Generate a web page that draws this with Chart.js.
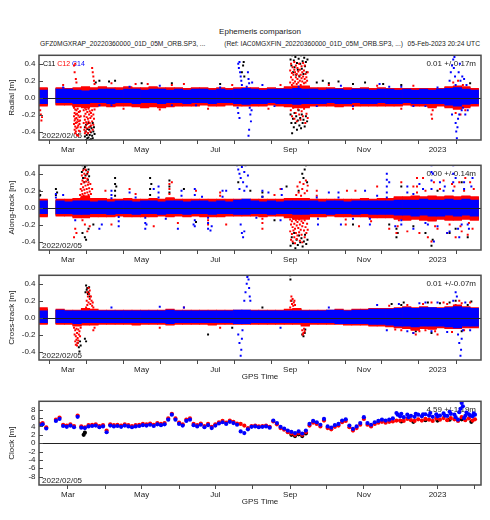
<!DOCTYPE html>
<html>
<head>
<meta charset="utf-8">
<script src="https://cdn.jsdelivr.net/npm/chart.js@4.4.1/dist/chart.umd.min.js"></script>
<style>
  body { margin: 0; background: #fff; width: 490px; height: 520px; position: relative; overflow: hidden;
         font-family: "Liberation Sans", Arial, sans-serif; color: #222; }
  canvas { position: absolute; left: 0; }
  .txt { position: absolute; white-space: nowrap; }
  #title { left: 39px; width: 442px; top: 27px; text-align: center; font-size: 8px; line-height: 10px; }
  .sub { top: 38.5px; font-size: 6.7px; line-height: 9px; }
</style>
</head>
<body>
<div class="txt" id="title">Ephemeris comparison</div>
<div class="txt sub" style="left:40px">GFZ0MGXRAP_20220360000_01D_05M_ORB.SP3, ...</div>
<div class="txt sub" style="right:87px">(Ref: IAC0MGXFIN_20220360000_01D_05M_ORB.SP3, ...)</div>
<div class="txt sub" style="right:10px">05-Feb-2023 20:24 UTC</div>

<canvas id="radial" width="490" height="109" style="top:47px"></canvas>
<canvas id="along" width="490" height="109" style="top:157px"></canvas>
<canvas id="cross" width="490" height="121" style="top:267px"></canvas>
<canvas id="clock" width="490" height="120" style="top:393px"></canvas>

<script>
// x values are days since 2022/02/05
const SATS = ['C11', 'C12', 'C14'];
const SAT_COLORS = ['#000000', '#ff0000', '#0000ff'];
const TICK_DAYS = [24, 55, 85, 116, 146, 177, 208, 238, 269, 299, 330, 361];
const TICK_LABELS = ['Mar', '', 'May', '', 'Jul', '', 'Sep', '', 'Nov', '', '2023', ''];
const ORBIT_TICKS = [-0.4, -0.2, 0, 0.2, 0.4];
const CLOCK_TICKS = [-8, -6, -4, -2, 0, 2, 4, 6, 8];

// weekly spread of the dense core of each point cloud (bucket centres)
const WEEK_DAYS = [3.5,10.5,17.5,24.5,31.5,38.5,45.5,52.5,59.5,66.5,73.5,80.5,87.5,
  94.5,101.5,108.5,115.5,122.5,129.5,136.5,143.5,150.5,157.5,164.5,171.5,178.5,
  185.5,192.5,199.5,206.5,213.5,220.5,227.5,234.5,241.5,248.5,255.5,262.5,269.5,
  276.5,283.5,290.5,297.5,304.5,311.5,318.5,325.5,332.5,339.5,346.5,353.5,360.5];

const RADIAL_C14_HI = [0.09,null,0.10,0.10,0.09,0.08,0.09,0.10,0.10,0.09,0.10,0.10,0.09,
  0.10,0.10,0.09,0.10,0.09,0.10,0.10,0.09,0.10,0.09,0.10,0.11,0.10,
  0.09,0.10,0.10,0.10,0.11,0.10,0.10,0.09,0.10,0.10,0.09,0.10,0.10,
  0.09,0.10,0.10,0.09,0.10,0.09,0.10,0.09,0.10,0.11,0.12,0.10,0.09];
const RADIAL_C14_LO = [-0.07,null,-0.06,-0.06,-0.07,-0.07,-0.06,-0.06,-0.07,-0.06,-0.06,-0.07,-0.06,
  -0.06,-0.07,-0.06,-0.06,-0.07,-0.06,-0.06,-0.07,-0.06,-0.06,-0.07,-0.08,-0.07,
  -0.07,-0.06,-0.07,-0.07,-0.08,-0.07,-0.07,-0.07,-0.06,-0.07,-0.07,-0.06,-0.07,
  -0.07,-0.06,-0.07,-0.07,-0.06,-0.07,-0.07,-0.07,-0.07,-0.09,-0.10,-0.08,-0.07];
const RADIAL_C12_HI = [0.12,null,0.12,0.11,0.12,0.13,0.12,0.13,0.12,0.12,0.13,0.12,0.12,
  0.13,0.12,0.12,0.12,0.11,0.12,0.12,0.11,0.12,0.11,0.12,0.12,0.12,
  0.11,0.12,0.11,0.13,0.14,0.14,0.12,0.12,0.12,0.11,0.12,0.11,0.12,
  0.11,0.12,0.11,0.11,0.11,0.11,0.11,0.11,0.11,0.13,0.14,0.13,0.11];
const RADIAL_C12_LO = [-0.10,null,-0.09,-0.09,-0.11,-0.12,-0.11,-0.10,-0.11,-0.10,-0.10,-0.11,-0.12,
  -0.11,-0.12,-0.11,-0.10,-0.10,-0.10,-0.09,-0.10,-0.10,-0.09,-0.10,-0.10,-0.10,
  -0.10,-0.09,-0.10,-0.11,-0.12,-0.12,-0.10,-0.10,-0.10,-0.11,-0.10,-0.10,-0.10,
  -0.10,-0.10,-0.10,-0.10,-0.09,-0.10,-0.10,-0.12,-0.10,-0.12,-0.14,-0.12,-0.10];
const RADIAL_C11_HI = [0.11,null,0.11,0.10,0.11,0.12,0.11,0.12,0.11,0.11,0.12,0.11,0.11,
  0.12,0.11,0.11,0.11,0.10,0.11,0.11,0.10,0.11,0.10,0.11,0.11,0.11,
  0.10,0.11,0.10,0.12,0.13,0.13,0.11,0.11,0.11,0.10,0.11,0.10,0.11,
  0.10,0.11,0.10,0.10,0.10,0.10,0.10,0.10,0.10,0.12,0.13,0.12,0.10];
const RADIAL_C11_LO = [-0.09,null,-0.08,-0.08,-0.10,-0.11,-0.10,-0.09,-0.10,-0.09,-0.09,-0.10,-0.11,
  -0.10,-0.11,-0.10,-0.09,-0.09,-0.09,-0.08,-0.09,-0.09,-0.08,-0.09,-0.09,-0.09,
  -0.09,-0.08,-0.09,-0.10,-0.11,-0.11,-0.09,-0.09,-0.09,-0.10,-0.09,-0.09,-0.09,
  -0.09,-0.09,-0.09,-0.09,-0.08,-0.09,-0.09,-0.11,-0.09,-0.11,-0.13,-0.11,-0.09];

const ALONG_C14_HI = [0.08,null,0.08,0.07,0.08,0.08,0.07,0.08,0.07,0.08,0.08,0.07,0.08,
  0.08,0.07,0.08,0.08,0.07,0.08,0.08,0.07,0.08,0.07,0.09,0.10,0.08,
  0.07,0.08,0.07,0.08,0.08,0.08,0.08,0.07,0.08,0.08,0.07,0.08,0.08,
  0.08,0.08,0.08,0.09,0.09,0.09,0.10,0.09,0.09,0.10,0.09,0.10,0.09];
const ALONG_C14_LO = [-0.07,null,-0.07,-0.07,-0.08,-0.08,-0.07,-0.07,-0.08,-0.07,-0.07,-0.08,-0.07,
  -0.07,-0.08,-0.07,-0.07,-0.08,-0.07,-0.07,-0.08,-0.07,-0.07,-0.08,-0.08,-0.07,
  -0.07,-0.08,-0.07,-0.07,-0.08,-0.08,-0.07,-0.07,-0.08,-0.07,-0.07,-0.08,-0.07,
  -0.08,-0.08,-0.08,-0.09,-0.09,-0.10,-0.09,-0.10,-0.10,-0.09,-0.10,-0.09,-0.10];
const ALONG_C12_HI = [0.10,null,0.10,0.10,0.11,0.14,0.11,0.11,0.10,0.10,0.11,0.10,0.10,
  0.11,0.10,0.12,0.10,0.10,0.10,0.10,0.10,0.10,0.10,0.10,0.10,0.10,
  0.10,0.10,0.10,0.11,0.11,0.11,0.10,0.10,0.10,0.10,0.10,0.10,0.11,
  0.10,0.11,0.11,0.13,0.13,0.14,0.13,0.14,0.13,0.14,0.13,0.14,0.13];
const ALONG_C12_LO = [-0.11,null,-0.10,-0.10,-0.12,-0.12,-0.11,-0.11,-0.11,-0.10,-0.11,-0.11,-0.11,
  -0.11,-0.10,-0.11,-0.10,-0.11,-0.10,-0.11,-0.11,-0.11,-0.10,-0.10,-0.10,-0.10,
  -0.11,-0.10,-0.10,-0.12,-0.14,-0.14,-0.11,-0.11,-0.10,-0.11,-0.11,-0.11,-0.11,
  -0.12,-0.12,-0.12,-0.14,-0.15,-0.14,-0.15,-0.16,-0.14,-0.15,-0.15,-0.14,-0.15];
const ALONG_C11_HI = [0.09,null,0.09,0.09,0.10,0.13,0.10,0.10,0.09,0.09,0.10,0.09,0.09,
  0.10,0.09,0.11,0.09,0.09,0.09,0.09,0.09,0.09,0.09,0.09,0.09,0.09,
  0.09,0.09,0.09,0.10,0.10,0.10,0.09,0.09,0.09,0.09,0.09,0.09,0.10,
  0.09,0.10,0.10,0.12,0.12,0.13,0.12,0.13,0.12,0.13,0.12,0.13,0.12];
const ALONG_C11_LO = [-0.10,null,-0.09,-0.09,-0.11,-0.11,-0.10,-0.10,-0.10,-0.09,-0.10,-0.10,-0.10,
  -0.10,-0.09,-0.10,-0.09,-0.10,-0.09,-0.10,-0.10,-0.10,-0.09,-0.09,-0.09,-0.09,
  -0.10,-0.09,-0.09,-0.11,-0.13,-0.13,-0.10,-0.10,-0.09,-0.10,-0.10,-0.10,-0.10,
  -0.11,-0.11,-0.11,-0.13,-0.14,-0.13,-0.14,-0.15,-0.13,-0.14,-0.14,-0.13,-0.14];

const CROSS_C14_HI = [0.08,null,0.09,0.08,0.08,0.08,0.08,0.08,0.08,0.08,0.08,0.08,0.08,
  0.08,0.08,0.09,0.08,0.08,0.08,0.08,0.08,0.08,0.08,0.09,0.09,0.08,
  0.08,0.08,0.08,0.08,0.08,0.08,0.08,0.08,0.09,0.09,0.08,0.09,0.09,
  0.10,0.10,0.10,0.11,0.12,0.11,0.12,0.12,0.11,0.12,0.13,0.12,0.11];
const CROSS_C14_LO = [-0.06,null,-0.06,-0.06,-0.07,-0.06,-0.06,-0.06,-0.06,-0.06,-0.06,-0.06,-0.06,
  -0.06,-0.06,-0.07,-0.06,-0.06,-0.06,-0.06,-0.06,-0.06,-0.06,-0.07,-0.07,-0.06,
  -0.06,-0.06,-0.06,-0.06,-0.06,-0.06,-0.06,-0.06,-0.06,-0.07,-0.07,-0.07,-0.07,
  -0.08,-0.08,-0.09,-0.10,-0.10,-0.11,-0.10,-0.10,-0.10,-0.11,-0.12,-0.10,-0.10];
const CROSS_C12_HI = [0.12,null,0.10,0.09,0.09,0.11,0.10,0.09,0.09,0.09,0.09,0.09,0.09,
  0.09,0.09,0.10,0.09,0.09,0.09,0.09,0.09,0.09,0.09,0.09,0.09,0.09,
  0.09,0.09,0.09,0.10,0.11,0.09,0.09,0.09,0.09,0.10,0.09,0.10,0.10,
  0.11,0.11,0.11,0.12,0.13,0.12,0.13,0.12,0.12,0.13,0.15,0.13,0.12];
const CROSS_C12_LO = [-0.08,null,-0.08,-0.08,-0.10,-0.09,-0.09,-0.08,-0.08,-0.08,-0.08,-0.09,-0.08,
  -0.08,-0.08,-0.09,-0.08,-0.08,-0.08,-0.08,-0.09,-0.08,-0.08,-0.08,-0.08,-0.08,
  -0.08,-0.08,-0.08,-0.08,-0.08,-0.10,-0.08,-0.08,-0.08,-0.08,-0.09,-0.09,-0.09,
  -0.10,-0.10,-0.11,-0.12,-0.13,-0.15,-0.13,-0.14,-0.12,-0.13,-0.13,-0.12,-0.12];
const CROSS_C11_HI = [0.10,null,0.09,0.08,0.08,0.10,0.09,0.08,0.08,0.08,0.08,0.08,0.08,
  0.08,0.08,0.09,0.08,0.08,0.08,0.08,0.08,0.08,0.08,0.08,0.08,0.08,
  0.08,0.08,0.08,0.09,0.10,0.08,0.08,0.08,0.08,0.09,0.08,0.09,0.09,
  0.10,0.10,0.10,0.11,0.12,0.11,0.12,0.11,0.11,0.12,0.13,0.12,0.11];
const CROSS_C11_LO = [-0.07,null,-0.07,-0.07,-0.09,-0.08,-0.08,-0.07,-0.07,-0.07,-0.07,-0.08,-0.07,
  -0.07,-0.07,-0.08,-0.07,-0.07,-0.07,-0.07,-0.08,-0.07,-0.07,-0.07,-0.07,-0.07,
  -0.07,-0.07,-0.07,-0.07,-0.07,-0.09,-0.07,-0.07,-0.07,-0.07,-0.08,-0.08,-0.08,
  -0.09,-0.09,-0.10,-0.11,-0.12,-0.14,-0.12,-0.13,-0.11,-0.12,-0.12,-0.11,-0.11];

// points outside the dense core: [day, metres]
const RADIAL_C14_PTS = [[165,0.40],[165.5,0.35],[166,0.42],[166.5,0.30],[167,0.25],[167.5,0.20],[168,0.15],
  [164.5,-0.12],[165,-0.18],[166,-0.24],[172,0.13],[173,0.30],[173.5,0.22],[174,0.17],[174.5,-0.12],
  [175,-0.20],[175.5,-0.28],[173.5,-0.45],[174,-0.38],[176,-0.15],[176.5,0.18],[340,0.20],[341,0.30],
  [342,-0.20],[342,0.38],[343,0.45],[343.5,0.35],[344,0.48],[344.5,0.25],[345,0.15],[345,-0.30],
  [345.5,-0.40],[346,-0.48],[346.5,-0.35],[347,-0.25],[347.5,0.30],[348,-0.20],[348.5,0.40],[349,0.20],
  [350,-0.15],[350.5,0.25],[351,-0.12],[352,0.22],[353,-0.20],[354,0.15],[355,-0.15],[100,0.14],
  [185,0.15],[250,0.14],[282,0.16],[300,0.13],[60,-0.09],[130,-0.09],[230,-0.10],[320,-0.10],
  [20,0.12],[50,-0.09],[75,0.13],[110,-0.09],[150,0.12],[195,-0.10],[215,0.13],[260,-0.10],
  [290,0.13],[310,-0.10],[330,0.12]];
const RADIAL_C12_PTS = [[1,-0.15],[1.5,-0.20],[2,-0.27],[2.5,-0.23],
  [29,-0.12],[29,-0.22],[29,-0.31],[29.5,-0.18],[29.5,-0.27],[29.5,-0.38],[30,-0.14],[30,-0.25],[30,-0.34],
  [30,-0.42],[30.5,-0.20],[30.5,-0.30],[30.5,-0.40],[31,-0.15],[31,-0.24],[31,-0.36],[31.5,-0.19],
  [31.5,-0.29],[31.5,-0.44],[32,-0.13],[32,-0.26],[32,-0.35],[32.5,-0.21],[32.5,-0.33],[32.5,-0.45],
  [33,-0.17],[33,-0.28],[33,-0.39],[33.5,-0.23],[33.5,-0.31],[34,-0.16],[34,-0.27],[34,-0.40],
  [34.5,-0.22],[34.5,-0.35],[37,-0.15],[37,-0.30],[37.5,-0.22],[37.5,-0.38],[38,-0.12],[38,-0.26],
  [38,-0.42],[38.5,-0.19],[38.5,-0.34],[39,-0.14],[39,-0.29],[39,-0.40],[39.5,-0.23],[39.5,-0.36],
  [40,-0.17],[40,-0.31],[40.5,-0.25],[40.5,-0.42],[41,-0.13],[41,-0.28],[41.5,-0.20],[41.5,-0.35],
  [42,-0.16],[42,-0.30],[42.5,-0.24],[42.5,-0.40],[43,-0.18],[43,-0.33],[43.5,-0.22],[44,-0.15],
  [44,-0.28],[44.5,-0.38],[45,-0.20],[45,-0.32],[45.5,-0.25],[46,-0.14],
  [29,0.38],[29.5,0.30],[30,0.40],[30.5,0.22],[31,0.18],[44,0.35],[44.5,0.30],[45,0.25],[45.5,0.20],[46,0.16],
  [20,0.15],[60,0.17],[70,-0.13],[80,0.16],[90,0.16],[100,-0.14],[110,0.15],[120,0.16],[140,-0.13],
  [160,0.15],[190,-0.13],[200,0.15],
  [208,0.18],[208,0.32],[208.7,0.24],[208.7,0.40],[209.4,0.15],[209.4,0.29],[210,0.21],[210,0.36],
  [210.7,0.17],[210.7,0.27],[211.4,0.33],[211.4,0.42],[212,0.19],[212,0.30],[212.7,0.24],[212.7,0.38],
  [213.4,0.16],[213.4,0.28],[214,0.22],[214,0.35],[214.7,0.18],[214.7,0.31],[215.4,0.26],[215.4,0.40],
  [216,0.20],[216,0.33],[216.7,0.15],[216.7,0.27],[217.4,0.23],[217.4,0.37],[218,0.19],[218,0.30],
  [218.7,0.25],[218.7,0.41],[219.4,0.17],[219.4,0.32],[220,0.22],[220,0.38],[220.7,0.18],[220.7,0.28],
  [221.4,0.24],[222,0.20],[222.5,0.30],
  [208.5,-0.15],[209.5,-0.22],[210.5,-0.12],[211.5,-0.25],[212.5,-0.18],[213.5,-0.28],[214.5,-0.14],
  [215.5,-0.20],[216.5,-0.26],[217.5,-0.16],[218.5,-0.22],[219.5,-0.13],[220.5,-0.30],[221.5,-0.19],
  [222.5,-0.24],[240,0.15],[260,-0.13],[280,0.14],[300,-0.13],[310,0.14],[325,-0.20],[325.5,-0.25],
  [326,-0.15],[343,0.18],[345,-0.18],[347,0.20],[349,-0.20],[351,0.15],[353,-0.15]];
const RADIAL_C11_PTS = [[38,-0.35],[38,-0.46],[38.5,-0.40],[39,-0.32],[39,-0.50],[39.5,-0.44],[40,-0.37],
  [40,-0.48],[40.5,-0.42],[41,-0.30],[41,-0.47],[41.5,-0.38],[42,-0.44],[42,-0.50],[42.5,-0.34],
  [43,-0.41],[43,-0.49],[43.5,-0.36],[44,-0.45],[44.5,-0.30],[44.5,-0.48],[45,-0.40],[45.5,-0.35],
  [46,-0.43],[47,0.18],[50,0.20],[58,0.19],[63,0.20],[85,0.17],[110,0.17],[150,0.16],[168,0.30],
  [169,0.38],[169.5,0.42],[170,0.25],[230,0.18],[235,0.20],[240,0.17],[248,0.19],[260,0.16],[270,0.18],
  [285,0.16],[300,0.15],[357,0.17],
  [208.3,0.45],[209,0.38],[209.6,0.50],[210.3,0.30],[211,0.44],[211.6,0.36],[212.3,0.48],[213,0.27],
  [213.6,0.41],[214.3,0.33],[215,0.46],[215.6,0.25],[216.3,0.40],[217,0.50],[217.6,0.34],[218.3,0.43],
  [219,0.28],[219.6,0.47],[220.3,0.37],[221,0.42],[221.6,0.30],[222.3,0.45],
  [208.3,-0.20],[209,-0.30],[209.6,-0.42],[210.3,-0.25],[211,-0.35],[211.6,-0.18],[212.3,-0.30],
  [213,-0.22],[213.6,-0.38],[214.3,-0.27],[215,-0.15],[215.6,-0.33],[216.3,-0.24],[217,-0.36],
  [217.6,-0.20],[218.3,-0.30],[219,-0.26],[220,-0.34],[221,-0.22],[222,-0.28]];

const ALONG_C14_PTS = [[164,0.50],[165,0.45],[166,0.40],[167,0.35],[168,0.48],[169,0.30],[170,0.42],
  [171,0.50],[172,0.25],[173,0.38],[170,0.20],[166,0.22],[168,-0.30],[169,-0.35],[170,-0.28],[167,-0.20],
  [20,0.15],[50,-0.25],[52,-0.20],[60,0.20],[66,-0.22],[75,0.18],[88,-0.25],[89,-0.20],[95,0.22],
  [115,-0.25],[118,0.20],[128,-0.20],[142,-0.27],[143,-0.22],[155,0.20],[190,0.18],[200,-0.15],
  [240,0.18],[250,-0.20],[270,0.20],[288,0.40],[290,0.30],[295,-0.22],[305,0.25],[315,0.28],[325,0.50],
  [326,0.40],[327,-0.40],[332,0.30],[338,-0.30],[343,0.50],[345,0.35],[348,-0.35],[352,0.30],
  [356,-0.25],[359,0.35],[30,-0.15],[80,0.12],[105,-0.13],[135,0.13],[180,-0.12],[230,0.12],
  [260,-0.13],[280,0.14],[300,-0.15],[310,0.16],[320,-0.18],[335,0.20],[350,-0.20],
  [14,0.16],[14,0.12],[60,0.15],[60,0.11],[66,-0.16],[66,-0.11],[88,-0.18],[88,-0.12],[99,0.25],
  [99,0.18],[99,0.12],[118,0.14],[129,0.22],[129,0.15],[129,-0.22],[129,-0.15],[140,-0.25],[140,-0.18],
  [140,-0.12],[152,0.20],[152,0.13],[185,0.20],[185,0.13],[201,0.22],[201,0.15],[231,-0.20],[231,-0.13],
  [248,0.18],[248,0.12],[274,-0.20],[274,-0.13],[288,0.33],[288,0.25],[288,0.18],[288,0.12],[300,-0.20],
  [305,0.18],[310,-0.25],[318,0.22],[322,-0.20],[325,0.42],[325,0.32],[325,0.22],[330,-0.22],
  [336,0.25],[340,-0.28],[343,0.40],[343,0.30],[343,0.20],[347,-0.25],[352,0.22],[355,-0.20],[358,0.25]];
const ALONG_C12_PTS = [[34,0.15],[34.5,0.22],[35,0.12],[35,0.28],[35.5,0.20],[35.5,0.38],[36,0.16],
  [36,0.32],[36.5,0.24],[36.5,0.44],[37,0.14],[37,0.30],[37.5,0.21],[37.5,0.40],[38,0.17],[38,0.35],
  [38.5,0.26],[38.5,0.45],[39,0.13],[39,0.31],[39.5,0.22],[39.5,0.39],[40,0.18],[40,0.34],[40.5,0.27],
  [40.5,0.42],[41,0.15],[41,0.30],[41.5,0.23],[42,0.19],[42.5,0.28],[43,0.16],[44,0.22],
  [29,-0.35],[30,-0.25],[31,-0.30],[38,-0.20],[40,-0.28],[42,-0.22],[36,-0.15],
  [55,0.20],[60,-0.20],[75,0.22],[95,-0.22],[108,0.28],[110,0.30],[115,-0.18],[130,0.20],[140,-0.20],
  [150,0.18],[155,-0.20],[185,-0.25],[195,0.15],[200,0.22],
  [208,-0.14],[208,-0.28],[208.7,-0.20],[208.7,-0.38],[209.4,-0.16],[209.4,-0.31],[210,-0.23],[210,-0.40],
  [210.7,-0.13],[210.7,-0.27],[211.4,-0.19],[211.4,-0.35],[212,-0.25],[212,-0.42],[212.7,-0.15],
  [212.7,-0.30],[213.4,-0.21],[213.4,-0.37],[214,-0.17],[214,-0.33],[214.7,-0.24],[215.4,-0.14],
  [215.4,-0.29],[216,-0.20],[216,-0.39],[216.7,-0.26],[217.4,-0.16],[217.4,-0.32],[218,-0.22],[218,-0.41],
  [218.7,-0.18],[219.4,-0.27],[220,-0.15],[220,-0.35],[220.7,-0.23],[221.4,-0.30],[222,-0.19],[222.5,-0.26],
  [213,0.15],[214,0.25],[215,0.18],[216,0.30],[217,0.14],[218,0.22],[219,0.28],[220,0.17],[221,0.32],
  [222,0.20],[222.5,0.26],
  [255,0.20],[265,-0.22],[280,0.25],[290,-0.25],[300,0.30],[305,-0.28],[310,0.25],[315,-0.30],[318,0.35],
  [322,-0.35],[325,-0.40],[327,0.30],[330,-0.25],[335,0.32],[338,-0.30],[342,0.28],[345,-0.35],
  [348,0.30],[350,-0.28],[353,0.35],[355,-0.32],[357,0.30],[359,-0.25],
  [80,0.16],[108,0.22],[108,0.16],[140,-0.15],[150,0.14],[185,-0.18],[185,-0.13],[230,0.20],[230,0.14],
  [254,-0.20],[254,-0.14],[262,0.20],[275,-0.16],[296,-0.30],[297,-0.22],[298,-0.15],[313,0.35],
  [313,0.25],[313,0.18],[320,0.20],[328,-0.22],[332,0.22],[340,-0.20],[344,0.25],[349,-0.22],
  [352,0.20],[356,-0.18],[360,0.22]];
const ALONG_C11_PTS = [[35.5,0.42],[36,0.50],[36.5,0.35],[37,0.46],[37.5,0.30],[38,0.48],[38.5,0.38],
  [39,0.44],[39.5,0.50],[40,0.40],[40.5,0.33],[41,0.45],[41.5,0.37],[36,-0.30],[38,-0.35],[39,-0.38],
  [41,-0.25],[0.5,0.20],[1,0.15],[14,0.22],[15,0.18],[63,0.35],[64,0.25],[92,0.35],[93,0.28],
  [108,0.32],[45,-0.20],[120,0.22],[130,-0.17],[165,0.30],[175,0.20],[195,-0.15],[205,0.25],
  [208.3,-0.45],[209.3,-0.35],[210.3,-0.42],[211.3,-0.30],[212.3,-0.48],[213.3,-0.38],[214.3,-0.44],
  [215.3,-0.33],[216.3,-0.41],[217.3,-0.36],[218.3,-0.46],[219.3,-0.40],[220.3,-0.32],[221.3,-0.43],
  [222.3,-0.38],[215,0.20],[218,0.40],[219,0.35],[220,0.45],[221,0.50],[222,0.30],
  [260,-0.20],[296,-0.35],[297,-0.30],[300,0.25],[320,-0.30],[325,-0.45],[326,-0.38],[340,-0.30],
  [350,0.30],[355,-0.35],
  [63,0.28],[63,0.20],[63,0.14],[92,0.22],[92,0.15],[108,0.25],[108,0.18],[185,0.18],[185,0.13],
  [0.5,0.14],[14,0.15],[290,-0.20],[296,-0.25],[310,-0.22],[330,0.20],[345,-0.25]];

const CROSS_C14_PTS = [[165,-0.20],[166,-0.30],[167,-0.45],[167.5,-0.38],[168,-0.25],[168.5,-0.15],
  [170,0.20],[171,0.30],[172,0.40],[173,0.50],[173.5,0.45],[174,0.35],[174.5,0.25],[175,0.20],
  [172.5,0.48],[345,0.30],[346,0.25],[347,-0.20],[348,-0.30],[349,-0.45],[349.5,-0.38],[350,-0.25],
  [351,-0.15],[310,-0.18],[320,0.18],[280,0.15],[60,0.12],[100,0.13],[200,-0.12],
  [288,-0.15],[298,0.16],[305,-0.16],[315,0.17],[325,-0.16],[330,0.18],[338,-0.17],[343,0.20],
  [353,0.18],[357,-0.15],[120,0.12],[240,0.12]];
const CROSS_C12_PTS = [[29,-0.12],[29.5,-0.20],[30,-0.15],[30,-0.28],[30.5,-0.22],[30.5,-0.32],[31,-0.13],
  [31,-0.26],[31.5,-0.18],[31.5,-0.33],[32,-0.24],[32,-0.30],[32.5,-0.14],[32.5,-0.27],[33,-0.20],
  [33.5,-0.16],[34,-0.22],[34.5,-0.12],[39,0.12],[39.5,0.20],[40,0.15],[40,0.30],[40.5,0.25],[41,0.35],
  [41,0.18],[41.5,0.28],[42,0.22],[42,0.32],[42.5,0.16],[43,0.25],[43.5,0.20],[44,0.14],[44.5,0.18],
  [45,0.12],[45,-0.15],[46,-0.12],[100,-0.12],[120,0.12],[150,-0.12],
  [208,0.12],[208.5,0.20],[209,0.25],[209.5,0.16],[210,0.22],[210.5,0.14],[211,0.18],[211.5,0.20],
  [212,0.15],[218,-0.15],[218.5,-0.20],[219,-0.18],[219.5,-0.13],[220,-0.16],
  [300,-0.15],[310,-0.18],[312,-0.20],[320,-0.15],[330,-0.20],[335,0.18],[345,0.15],[350,0.17],
  [290,0.14],[295,-0.14],[305,0.15],[315,-0.16],[318,0.16],[325,0.18],[328,-0.16],[338,0.16],
  [342,-0.17],[348,0.20],[352,-0.15],[357,0.18]];
const CROSS_C11_PTS = [[32,-0.30],[33,-0.35],[33.5,-0.40],[34,-0.28],[34.5,-0.33],[38,-0.25],[39,-0.28],
  [38.5,0.30],[39,0.38],[39.5,0.33],[40,0.35],[40.5,0.28],[41,0.30],[41.5,0.36],[42,0.25],[140,-0.20],
  [208,0.50],[208.2,0.45],[209,0.20],[218,-0.20],[219,-0.22],[220,-0.18],[220.5,-0.14],
  [300,0.15],[325,-0.18],[340,0.18],[355,0.15],
  [292,0.16],[302,0.18],[312,-0.16],[322,0.18],[332,0.17],[345,0.20],[350,-0.16],[358,0.19],
  [185,0.12],[160,-0.12]];

const CLOCK_DAYS = [0,3,6,14,17,20,23,26,29,32,35,38,41,44,47,50,53,56,59,62,65,68,71,74,77,80,83,86,89,92,
  95,98,101,104,107,110,113,116,119,122,125,128,131,134,137,140,143,146,149,152,155,158,161,164,167,
  170,173,176,179,182,185,188,191,194,197,200,203,206,209,212,215,218,221,224,227,230,233,236,239,242,
  245,248,251,254,257,260,263,266,269,272,275,278,281,284,287,290,293,296,299,302,305,308,311,314,317,
  320,323,326,329,332,335,338,341,344,347,350,353,356,359,361];
const CLOCK_C14 = [4.3,4.5,3.5,
  5.3,5.8,4.1,3.9,4.2,3.8,6.3,3.7,3.6,4.0,4.1,4.2,3.8,4.0,2.6,4.2,
  4.0,4.1,3.9,4.2,4.0,3.8,4.0,4.1,4.3,4.2,4.4,4.1,4.5,4.3,4.5,5.6,
  6.8,5.6,4.6,4.2,5.3,5.6,4.3,4.0,4.4,3.8,4.3,3.6,4.2,4.7,5.0,4.6,
  5.1,4.8,4.4,2.8,2.4,3.3,3.9,4.0,3.8,3.9,4.0,3.7,5.4,4.8,3.9,3.5,
  3.0,2.7,2.4,2.8,2.3,3.0,4.6,5.3,5.0,4.4,5.8,4.0,3.7,4.3,4.6,5.4,
  5.7,4.2,3.4,4.0,4.8,6.2,4.8,4.4,5.0,5.3,5.6,5.4,5.6,5.9,7.2,6.4,
  6.2,6.8,6.5,6.3,6.8,6.4,6.9,6.6,6.3,6.9,6.6,7.1,6.5,7.0,6.8,5.6,
  9.6,6.5,6.9,6.4,6.8];
const CLOCK_C12 = [4.7,4.8,3.8,
  5.6,6.1,4.4,4.2,4.5,4.1,6.6,4.0,3.8,4.3,4.4,4.5,4.1,4.3,3.0,4.5,
  4.3,4.4,4.2,4.5,4.3,4.1,4.3,4.4,4.6,4.5,4.7,4.4,4.8,4.6,4.8,5.9,
  7.0,5.9,4.9,4.5,5.6,5.9,4.6,4.3,4.7,4.1,4.6,3.9,4.5,5.0,5.3,4.9,
  5.4,5.1,4.7,4.6,4.2,3.6,4.1,4.2,4.0,4.1,4.2,3.9,5.2,4.5,3.6,3.2,
  2.6,2.3,2.0,2.4,2.0,2.6,4.2,4.9,4.6,4.0,5.4,3.6,3.3,3.9,4.2,5.0,
  5.3,3.8,3.0,3.6,4.4,5.8,4.4,4.0,4.6,4.9,5.1,4.9,5.1,5.2,5.4,5.4,
  5.3,5.8,5.5,5.3,5.7,5.4,5.8,5.6,5.3,5.9,5.6,6.0,5.5,6.0,5.7,5.3,
  6.2,5.5,5.9,5.4,5.7];
const CLOCK_C14_SPREAD = [[297,6.8],[300,7.0],[306,6.2],[312,7.0],[318,6.9],[324,7.2],[330,6.4],[336,6.6],
  [340,7.5],[345,6.2],[348,7.4],[349,8.2],[351,8.8],[352,6.0],[354,7.3],[357,6.6],[360,7.1]];
const CLOCK_C11_PTS = [[37,2.0],[38,2.5],[209,2.0],[212,1.7],[215,2.1],[218,1.7],[221,2.3],[300,5.2],
  [310,5.1],[320,5.5],[330,5.4],[340,5.6],[350,5.7],[358,5.1]];

const FONT = '"Liberation Sans", Arial, sans-serif';
const INK = '#222';
const FRAME = '#4a4a4a';
Chart.defaults.font.family = FONT;
Chart.defaults.color = INK;

function bandData(lo, hi) {
  return WEEK_DAYS.map((day, i) => ({ x: day, y: [lo[i], hi[i]] })).filter((p, i) => lo[i] != null);
}

function pairData(pairs) {
  return pairs.map(([x, y]) => ({ x, y }));
}

function barSet(lo, hi, color) {
  return {
    type: 'bar', data: bandData(lo, hi), backgroundColor: color, borderWidth: 0,
    grouped: false, barPercentage: 1, categoryPercentage: 1
  };
}

function dotSet(points, color, style, radius) {
  return {
    type: 'scatter', data: points, backgroundColor: color, pointBackgroundColor: color,
    pointStyle: style, pointRadius: radius, pointBorderWidth: 0, borderWidth: 0, pointHoverRadius: 0
  };
}

const panelDecor = {
  id: 'panelDecor',
  beforeDatasetsDraw(chart, args, opts) {
    const { ctx, chartArea: a } = chart;
    ctx.save();
    ctx.font = `8px ${FONT}`;
    ctx.fillStyle = INK;
    ctx.textBaseline = 'alphabetic';
    ctx.textAlign = 'left';
    ctx.fillText('2022/02/05', a.left + 3, a.bottom - 2.5);
    ctx.textAlign = 'right';
    ctx.textBaseline = 'middle';
    ctx.fillText(opts.stats, a.right - 5, a.top + 8.5);
    if (opts.legend) {
      ctx.font = `7px ${FONT}`;
      ctx.textAlign = 'left';
      let x = a.left + 4;
      SATS.forEach((name, i) => {
        ctx.fillStyle = SAT_COLORS[i];
        ctx.fillText(name, x, a.top + 8.5);
        x += ctx.measureText(name + ' ').width;
      });
    }
    ctx.restore();
  },
  afterDatasetsDraw(chart) {
    const { ctx, chartArea: a, scales } = chart;
    const y0 = scales.y.getPixelForValue(0);
    ctx.save();
    ctx.strokeStyle = '#222';
    ctx.lineWidth = 1;
    ctx.beginPath();
    ctx.moveTo(a.left, Math.round(y0) + 0.5);
    ctx.lineTo(a.right, Math.round(y0) + 0.5);
    ctx.stroke();
    ctx.strokeStyle = FRAME;
    ctx.beginPath();
    scales.y.ticks.forEach((t) => {
      const py = Math.round(scales.y.getPixelForValue(t.value)) + 0.5;
      ctx.moveTo(a.left, py);
      ctx.lineTo(a.left + 4, py);
    });
    ctx.stroke();
    ctx.lineWidth = 1.5;
    ctx.strokeRect(a.left, a.top, a.right - a.left, a.bottom - a.top);
    ctx.restore();
  }
};
Chart.register(panelDecor);

function xScale(axisHeight, withTitle) {
  return {
    type: 'linear', min: 0, max: 366, offset: false,
    afterBuildTicks: (s) => { s.ticks = TICK_DAYS.map((v) => ({ value: v })); },
    afterFit: (s) => { s.height = axisHeight; },
    ticks: { autoSkip: false, maxRotation: 0, padding: 1, color: INK, font: { size: 8 },
             callback: (v, i) => TICK_LABELS[i] },
    grid: { drawOnChartArea: false, drawTicks: true, tickLength: 4, color: FRAME },
    border: { display: false },
    title: { display: withTitle, text: 'GPS Time', color: INK, font: { size: 8 }, padding: { top: 0, bottom: 6 } }
  };
}

function yScale(label, min, max, ticks, digits) {
  return {
    type: 'linear', min, max,
    afterBuildTicks: (s) => { s.ticks = ticks.map((v) => ({ value: v })); },
    afterFit: (s) => { s.width = 39; },
    ticks: { autoSkip: false, padding: 3.5, color: INK, font: { size: 8 },
             callback: (v) => Number(v).toFixed(digits) },
    grid: { display: false, drawTicks: false },
    border: { display: false },
    title: { display: true, text: label, color: INK, font: { size: 8 }, padding: { top: 7, bottom: 0 } }
  };
}

function makePanel(id, datasets, opts) {
  return new Chart(document.getElementById(id), {
    type: 'scatter',
    data: { datasets },
    options: {
      responsive: false,
      animation: false,
      events: [],
      layout: { padding: { left: 0, right: 9, top: 4, bottom: 0 } },
      plugins: {
        legend: { display: false },
        tooltip: { enabled: false },
        panelDecor: { stats: opts.stats, legend: !!opts.legend }
      },
      scales: {
        x: xScale(opts.axisHeight, opts.xTitle),
        y: yScale(opts.label, opts.min, opts.max, opts.ticks, opts.digits)
      }
    }
  });
}

function orbitSets(c11, c12, c14) {
  // first dataset is drawn on top
  return [
    dotSet(pairData(c14.pts), SAT_COLORS[2], 'rect', 1.4), barSet(c14.lo, c14.hi, SAT_COLORS[2]),
    dotSet(pairData(c12.pts), SAT_COLORS[1], 'rect', 1.4), barSet(c12.lo, c12.hi, SAT_COLORS[1]),
    dotSet(pairData(c11.pts), SAT_COLORS[0], 'rect', 1.4), barSet(c11.lo, c11.hi, SAT_COLORS[0])
  ];
}

makePanel('radial', orbitSets(
  { lo: RADIAL_C11_LO, hi: RADIAL_C11_HI, pts: RADIAL_C11_PTS },
  { lo: RADIAL_C12_LO, hi: RADIAL_C12_HI, pts: RADIAL_C12_PTS },
  { lo: RADIAL_C14_LO, hi: RADIAL_C14_HI, pts: RADIAL_C14_PTS }
), { label: 'Radial [m]', min: -0.5, max: 0.5, ticks: ORBIT_TICKS, digits: 1,
     stats: '0.01 +/-0.17m', legend: true, axisHeight: 16, xTitle: false });

makePanel('along', orbitSets(
  { lo: ALONG_C11_LO, hi: ALONG_C11_HI, pts: ALONG_C11_PTS },
  { lo: ALONG_C12_LO, hi: ALONG_C12_HI, pts: ALONG_C12_PTS },
  { lo: ALONG_C14_LO, hi: ALONG_C14_HI, pts: ALONG_C14_PTS }
), { label: 'Along-track [m]', min: -0.5, max: 0.5, ticks: ORBIT_TICKS, digits: 1,
     stats: '0.00 +/-0.14m', axisHeight: 16, xTitle: false });

makePanel('cross', orbitSets(
  { lo: CROSS_C11_LO, hi: CROSS_C11_HI, pts: CROSS_C11_PTS },
  { lo: CROSS_C12_LO, hi: CROSS_C12_HI, pts: CROSS_C12_PTS },
  { lo: CROSS_C14_LO, hi: CROSS_C14_HI, pts: CROSS_C14_PTS }
), { label: 'Cross-track [m]', min: -0.5, max: 0.5, ticks: ORBIT_TICKS, digits: 1,
     stats: '0.01 +/-0.07m', axisHeight: 28, xTitle: true });

makePanel('clock', [
  dotSet(pairData(CLOCK_C14_SPREAD), SAT_COLORS[2], 'circle', 2.1),
  dotSet(CLOCK_DAYS.map((d, i) => ({ x: d, y: CLOCK_C14[i] })), SAT_COLORS[2], 'circle', 2.1),
  dotSet(CLOCK_DAYS.map((d, i) => ({ x: d, y: CLOCK_C12[i] })), SAT_COLORS[1], 'circle', 2.1),
  dotSet(pairData(CLOCK_C11_PTS), SAT_COLORS[0], 'circle', 2.1)
], { label: 'Clock [m]', min: -10, max: 10, ticks: CLOCK_TICKS, digits: 0,
     stats: '4.59 +/-1.19m', axisHeight: 28, xTitle: true });
</script>
</body>
</html>
